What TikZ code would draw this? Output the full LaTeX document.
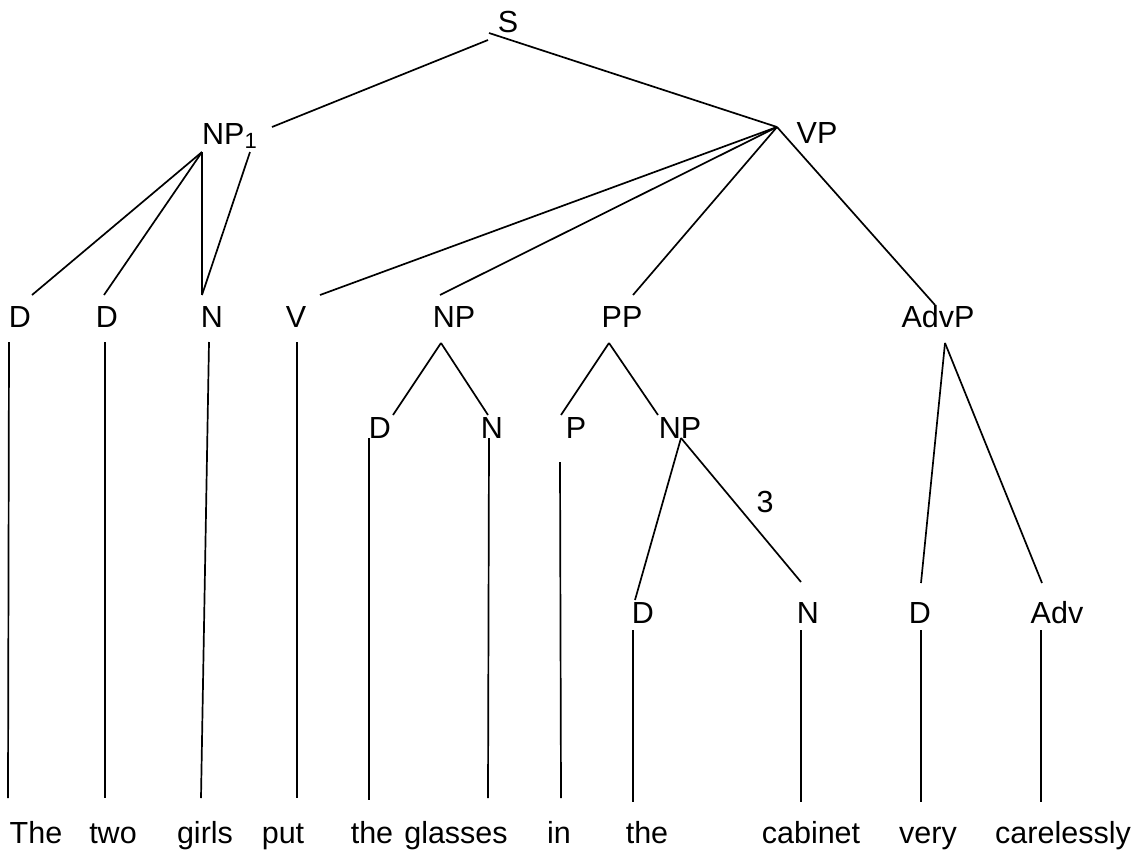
\documentclass[tikz,border=0pt]{standalone}
\usepackage{fontspec}
\setmainfont{Liberation Sans}
\begin{document}
\begin{tikzpicture}[x=1pt,y=-1pt,
  lbl/.style={inner sep=0pt, anchor=base, font=\fontsize{30.5}{36}\selectfont},
  br/.style={line width=1.7pt, black}]
\useasboundingbox (0,0) rectangle (1143,852);
% ---------- labels ----------
\node[lbl] (S) at (508,32) {S};
\node[lbl, anchor=base west] (NP1) at (202,144) {NP\raisebox{-4pt}{\fontsize{22}{26}\selectfont 1}};
\node[lbl] (VP) at (817,143) {VP};
% row 1
\node[lbl] (Da) at (20,327) {D};
\node[lbl] (Db) at (107,327) {D};
\node[lbl] (Na) at (212,327) {N};
\node[lbl] (V) at (296,327) {V};
\node[lbl] (NPa) at (454,327) {NP};
\node[lbl] (PP) at (622,327) {PP};
\node[lbl] (AdvP) at (938,327) {AdvP};
% row 2
\node[lbl] (Dc) at (380,438) {D};
\node[lbl] (Nb) at (492,438) {N};
\node[lbl] (P) at (576,438) {P};
\node[lbl] (NPb) at (680,438) {NP};
% row 3
\node[lbl] (Dd) at (643,623) {D};
\node[lbl] (Nc) at (808,623) {N};
\node[lbl] (De) at (920,623) {D};
\node[lbl] (Adv) at (1057,623) {Adv};
\node[lbl] (three) at (765,512) {3};
% words
\node[lbl] (w1) at (36,843) {The};
\node[lbl] (w2) at (113,843) {two};
\node[lbl] (w3) at (205,843) {girls};
\node[lbl] (w4) at (283,843) {put};
\node[lbl] (w5) at (372,843) {the};
\node[lbl] (w6) at (456,843) {glasses};
\node[lbl] (w7) at (559,843) {in};
\node[lbl] (w8) at (647,843) {the};
\node[lbl] (w9) at (811,843) {cabinet};
\node[lbl] (w10) at (928,843) {very};
\node[lbl] (w11) at (1063,843) {carelessly};
% ---------- connector end points ----------
\coordinate (S-l) at (488,40);
\coordinate (S-r) at (489,33);
\coordinate (NP1-t) at (272,127);
\coordinate (NP1-a) at (202,152);
\coordinate (NP1-b) at (250,152);
\coordinate (VP-t) at (777,127);
\coordinate (Da-t) at (32,295);   \coordinate (Da-b) at (9,342);
\coordinate (Db-t) at (104,295);  \coordinate (Db-b) at (105,342);
\coordinate (Na-t) at (202,295);  \coordinate (Na-b) at (209,342);
\coordinate (V-t) at (320,295);   \coordinate (V-b) at (297,342);
\coordinate (NPa-t) at (440,295); \coordinate (NPa-b) at (441,343);
\coordinate (PP-t) at (633,295);  \coordinate (PP-b) at (609,343);
\coordinate (AdvP-t) at (935,305);\coordinate (AdvP-b) at (945,343);
\coordinate (Dc-t) at (393,415);  \coordinate (Dc-b) at (369,438);
\coordinate (Nb-t) at (488,415);  \coordinate (Nb-b) at (489,438);
\coordinate (P-t) at (561,415);   \coordinate (P-b) at (560,462);
\coordinate (NPb-t) at (658,415); \coordinate (NPb-b) at (681,438);
\coordinate (Dd-t) at (635,600);  \coordinate (Dd-b) at (633,630);
\coordinate (Nc-t) at (801,582);  \coordinate (Nc-b) at (801,630);
\coordinate (De-t) at (921,583);  \coordinate (De-b) at (921,630);
\coordinate (Adv-t) at (1042,583);\coordinate (Adv-b) at (1041,630);
\coordinate (w1-t) at (8,798);
\coordinate (w2-t) at (105,798);
\coordinate (w3-t) at (201,798);
\coordinate (w4-t) at (297,798);
\coordinate (w5-t) at (369,800);
\coordinate (w6-t) at (488,798);
\coordinate (w7-t) at (561,798);
\coordinate (w8-t) at (633,802);
\coordinate (w9-t) at (801,802);
\coordinate (w10-t) at (921,802);
\coordinate (w11-t) at (1041,802);
% ---------- connectors ----------
\draw[br] (S-l) -- (NP1-t);
\draw[br] (S-r) -- (VP-t);
\draw[br] (NP1-a) -- (Da-t);
\draw[br] (NP1-a) -- (Db-t);
\draw[br] (NP1-a) -- (Na-t);
\draw[br] (NP1-b) -- (Na-t);
\draw[br] (VP-t) -- (V-t);
\draw[br] (VP-t) -- (NPa-t);
\draw[br] (VP-t) -- (PP-t);
\draw[br] (VP-t) -- (AdvP-t);
\draw[br] (NPa-b) -- (Dc-t);
\draw[br] (NPa-b) -- (Nb-t);
\draw[br] (PP-b) -- (P-t);
\draw[br] (PP-b) -- (NPb-t);
\draw[br] (NPb-b) -- (Dd-t);
\draw[br] (NPb-b) -- (Nc-t);
\draw[br] (AdvP-b) -- (De-t);
\draw[br] (AdvP-b) -- (Adv-t);
\draw[br] (Da-b) -- (w1-t);
\draw[br] (Db-b) -- (w2-t);
\draw[br] (Na-b) -- (w3-t);
\draw[br] (V-b) -- (w4-t);
\draw[br] (Dc-b) -- (w5-t);
\draw[br] (Nb-b) -- (w6-t);
\draw[br] (P-b) -- (w7-t);
\draw[br] (Dd-b) -- (w8-t);
\draw[br] (Nc-b) -- (w9-t);
\draw[br] (De-b) -- (w10-t);
\draw[br] (Adv-b) -- (w11-t);
\end{tikzpicture}
\end{document}
